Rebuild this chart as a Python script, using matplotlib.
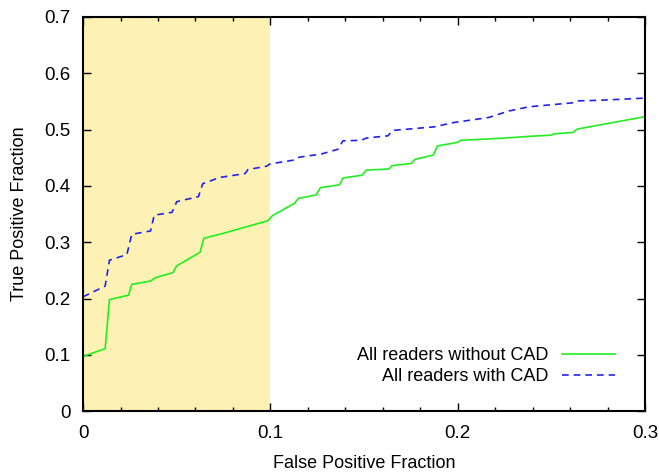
import numpy as np
import matplotlib
matplotlib.use("Agg")
import matplotlib.pyplot as plt
from matplotlib.ticker import MultipleLocator

plt.rcParams['font.family'] = ['Liberation Sans', 'DejaVu Sans']

# ROC curves
fpf_without = [0.0, 0.0118, 0.0141, 0.0243, 0.026, 0.036, 0.0386, 0.048, 0.050, 0.0624,
               0.0645, 0.0752, 0.0985, 0.101, 0.1128, 0.115, 0.1244, 0.1267, 0.1369, 0.1387,
               0.1489, 0.1512, 0.1632, 0.165, 0.1753, 0.1771, 0.187, 0.1891, 0.1995, 0.2016,
               0.2254, 0.2379, 0.2495, 0.2516, 0.2615, 0.2638, 0.3]
tpf_without = [0.097, 0.111, 0.198, 0.206, 0.225, 0.231, 0.237, 0.246, 0.258, 0.282,
               0.307, 0.316, 0.338, 0.347, 0.369, 0.378, 0.384, 0.397, 0.402, 0.414,
               0.419, 0.428, 0.430, 0.436, 0.440, 0.447, 0.455, 0.471, 0.477, 0.481,
               0.485, 0.488, 0.490, 0.4925, 0.495, 0.501, 0.523]

fpf_with = [0.0, 0.0118, 0.0141, 0.0234, 0.026, 0.036, 0.038, 0.0475, 0.050, 0.0616,
            0.0639, 0.073, 0.0866, 0.088, 0.098, 0.0998, 0.1128, 0.1154, 0.127, 0.136,
            0.1387, 0.1485, 0.1512, 0.1628, 0.1651, 0.1878, 0.1968, 0.2165, 0.2272, 0.2379,
            0.2611, 0.2638, 0.2754, 0.3]
tpf_with = [0.203, 0.222, 0.268, 0.278, 0.314, 0.320, 0.348, 0.353, 0.372, 0.381,
            0.404, 0.415, 0.422, 0.429, 0.435, 0.439, 0.446, 0.451, 0.4565, 0.465,
            0.480, 0.481, 0.485, 0.489, 0.4985, 0.505, 0.512, 0.5215, 0.533, 0.5405,
            0.5475, 0.551, 0.552, 0.556]

fig = plt.figure(figsize=(6.59, 4.72), dpi=100)
ax = fig.add_axes([0.126, 0.129, 0.853, 0.835])

ax.axvspan(0, 0.1, color='#fdf2b3', zorder=0, lw=0)
ax.plot(fpf_without, tpf_without, color='#22ee22', lw=1.2, label='All readers without CAD')
ax.plot(fpf_with, tpf_with, color='#2222ee', lw=1.2, ls=(0, (4, 3)), label='All readers with CAD')

ax.set_xlim(0, 0.3)
ax.set_ylim(0, 0.7)
ax.set_xticks([0, 0.1, 0.2, 0.3])
ax.set_xticklabels(['0', '0.1', '0.2', '0.3'])
ax.xaxis.set_minor_locator(MultipleLocator(0.02))
ax.set_yticks([0, 0.1, 0.2, 0.3, 0.4, 0.5, 0.6, 0.7])
ax.set_yticklabels(['0', '0.1', '0.2', '0.3', '0.4', '0.5', '0.6', '0.7'])
ax.tick_params(which='both', direction='in', top=True, right=True, labelsize=13.5)
ax.tick_params(which='major', length=6, width=1)
ax.tick_params(which='minor', length=3, width=1)
ax.tick_params(axis='x', pad=10)
ax.tick_params(axis='y', pad=9)
for s in ax.spines.values():
    s.set_linewidth(1.5)

ax.set_xlabel('False Positive Fraction', fontsize=13, labelpad=9)
ax.set_ylabel('True Positive Fraction', fontsize=13, labelpad=12)

ax.legend(loc='lower right', bbox_to_anchor=(0.975, 0.025), frameon=False, markerfirst=False,
          fontsize=13, handlelength=2.9, labelspacing=0.2, handletextpad=0.8)

fig.savefig('out.png', dpi=100)
